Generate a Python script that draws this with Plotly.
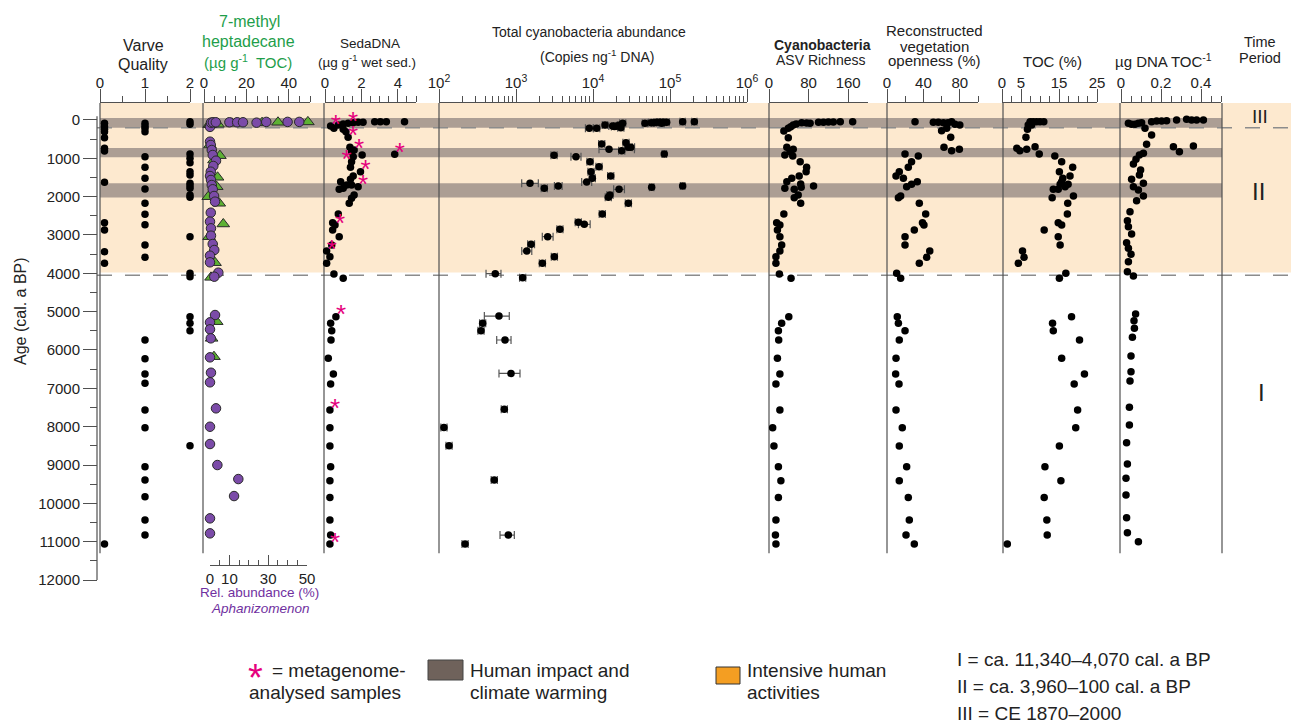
import plotly.graph_objects as go

# ---------------------------------------------------------------- data
# Varve quality index (0 / 1 / 2) versus age (cal. a BP)
varve_age = [87, 174, 243, 305, 461, 738, 809, 1626, 2679, 2870, 3435, 3740, 11062,
             87, 157, 217, 305, 957, 1234, 1521, 1800, 2173, 2460, 2731, 3261, 3582,
             5740, 6228, 6627, 6870, 7566, 8028, 9046, 9392, 9828, 10436, 10827,
             44, 112, 887, 999, 1114, 1349, 1435, 1652, 1714, 1782, 1957, 2017, 3045,
             4000, 4088, 5132, 5304, 5497, 8498]
varve_val = [0.1] * 13 + [1] * 24 + [2] * 19

# 7-methyl heptadecane (ug g-1 TOC)
mh_age = [121, 125, 112, 87, 70, 60, 50, 652, 931, 1044, 1495, 1740, 2001, 2173, 2713,
          3045, 3723, 4105, 5262, 5696, 6175]
mh_val = [2.4, 2.8, 6.6, 13.2, 27.4, 34.9, 49.0, 2.8, 7.5, 4.7, 6.4, 6.0, 2.0, 7.2, 9.1,
          2.4, 5.2, 3.3, 6.0, 3.6, 4.7]

# Aphanizomenon relative abundance (%)
aph_age = [180, 70, 60, 60, 60, 60, 60, 70, 50, 50, 50,
           566, 652, 783, 913, 1062, 1200, 1349, 1461, 1565, 1696, 1808, 1983, 2131,
           2418, 2653, 2826, 3018, 3235, 3392, 3540, 3713, 3983, 4088, 5088, 5279,
           5461, 5696, 6192, 6593, 6843, 7522, 8002, 8453, 9001, 9367, 9810, 10392, 10783]
aph_val = [0, 0.5, 1.5, 3, 10, 14, 17, 24, 29, 40, 46,
           0, 0.4, 0.9, 1.4, 3.1, 1.7, 0.4, 0, 0.5, 0.9, 1.4, 2.1, 2.6,
           0.4, 0, 0.5, 0.5, 1.4, 2.2, 0, 0, 4.3, 2.2, 2.6, 0,
           0, 0.4, 0, 0.5, 0, 3.1, 0, 0, 3.8, 14.6, 12.4, 0, 0]

# SedaDNA (ug g-1 wet sediment)
seda_age = [157, 217, 130, 104, 87, 70, 60, 60, 44, 44, 44, 44, 243, 305, 451,
            713, 783, 826, 913, 957, 895, 1087, 1234, 1348, 1461, 1548, 1609, 1696,
            1696, 1739, 1808, 1782, 1957, 2043, 2174, 2452, 2679, 2740, 2870, 3044,
            3261, 3418, 3566, 3740, 4018, 4130, 5132, 5305, 5497, 5740, 6218, 6627,
            6888, 7566, 8028, 8505, 9046, 9410, 9845, 10436, 10827, 11062]
seda_val = [0.31, 0.49, 0.73, 1.0, 1.27, 1.55, 1.82, 2.09, 2.73, 3.04, 3.37, 4.37, 1.0, 1.15, 1.27,
            1.37, 1.6, 1.46, 2.04, 1.55, 3.83, 1.46, 1.4, 1.95, 1.55, 1.4, 0.86, 1.19,
            1.46, 1.82, 0.78, 1.0, 1.6, 1.46, 1.33, 0.73, 0.42, 0.55, 0.42, 0.78,
            0.37, 0.09, 0.27, 0.09, 0.49, 1.0, 0.6, 0.31, 0.37, 0.33, 0.18, 0.46,
            0.31, 0.27, 0.27, 0.27, 0.31, 0.27, 0.27, 0.27, 0.31, 0.27]

# samples analysed by metagenomics (SedaDNA value, age)
meta_age = [157, 87, 451, 783, 895, 1087, 1348, 1739, 2740, 3418, 5132, 7566, 11062]
meta_val = [0.31, 1.27, 1.27, 1.6, 3.83, 1.46, 1.95, 1.82, 0.55, 0.09, 0.6, 0.27, 0.27]
meta_side = ["middle right"] * 5 + ["middle left"] + ["middle right"] * 7

# Total cyanobacteria abundance (copies ng-1 DNA) with error range (in decades)
cy_age = [217, 217, 130, 157, 160, 130, 87, 87, 70, 61, 61, 61, 61, 44, 44, 70, 87, 170, 200,
          626, 592, 765, 800, 713, 713, 887, 922, 957, 1088, 1218, 1349, 1461, 1521, 1618,
          1652, 1782, 1722, 1808, 1756, 1722, 1957, 2017, 2174, 2452, 2670, 2722, 2852,
          3044, 3243, 3418, 3566, 3740, 4010, 4114, 5114, 5305, 5497, 5740, 6610, 7548,
          8019, 8498, 9392, 10827, 11062]
cy_val = [8950, 11170, 14320, 18020, 20300, 22420, 24300, 47300, 61900, 67100, 74100, 81800,
          90500, 146000, 207000, 57000, 78000, 19000, 23000,
          12970, 26800, 16140, 23600, 28800, 30900, 84300, 3120, 6010, 9140, 11970, 9420,
          16980, 9800, 8280, 1520, 2330, 3540, 21800, 57800, 146000, 16600, 15800, 28800,
          13200, 6440, 7710, 3720, 2580, 1570, 1380, 3150, 2200, 538, 1220, 601, 369, 351,
          720, 861, 705, 116, 135, 522, 795, 218]
cy_err_lo = [0.05, 0.04, 0.035, 0.05, 0.04, 0.035, 0.04, 0.035, 0.035, 0.035, 0.035, 0.035,
             0.035, 0.035, 0.035, 0.035, 0.035, 0.04, 0.04,
             0.04, 0.04, 0.13, 0.04, 0.05, 0.05, 0.03, 0.04, 0.065, 0.04, 0.04, 0.04,
             0.04, 0.04, 0.065, 0.108, 0.04, 0.05, 0.07, 0.03, 0.03, 0.04, 0.04, 0.04,
             0.04, 0.04, 0.076, 0.04, 0.07, 0.045, 0.065, 0.04, 0.04, 0.12, 0.04, 0.19,
             0.04, 0.04, 0.108, 0.156, 0.04, 0.04, 0.04, 0.04, 0.108, 0.04]
cy_err_hi = [0.05, 0.04, 0.035, 0.05, 0.04, 0.035, 0.04, 0.035, 0.035, 0.035, 0.035, 0.035,
             0.035, 0.035, 0.035, 0.035, 0.035, 0.04, 0.04,
             0.04, 0.04, 0.33, 0.04, 0.05, 0.05, 0.03, 0.04, 0.065, 0.04, 0.04, 0.04,
             0.04, 0.04, 0.065, 0.108, 0.04, 0.05, 0.07, 0.03, 0.03, 0.04, 0.04, 0.04,
             0.04, 0.04, 0.076, 0.04, 0.07, 0.045, 0.065, 0.04, 0.04, 0.074, 0.04, 0.134,
             0.04, 0.04, 0.078, 0.117, 0.04, 0.04, 0.04, 0.04, 0.078, 0.04]

# Cyanobacteria ASV richness
asv_age = [287, 217, 175, 130, 104, 70, 78, 87, 61, 61, 52, 52, 44, 44, 461,
           713, 765, 826, 913, 940, 1087, 1235, 1348, 1461, 1521, 1609, 1670, 1722, 1782,
           1808, 1756, 1957, 2027, 2174, 2452, 2679, 2740, 2870, 3044, 3261, 3418, 3566,
           3740, 4018, 4130, 5132, 5305, 5497, 5740, 6218, 6627, 6888, 7566, 8028, 8505,
           9046, 9410, 9845, 10436, 10827, 11062]
asv_val = [30, 39, 44, 49, 55, 66, 76, 83, 100, 110, 120, 130, 144, 169, 39,
           36, 49, 42.5, 32, 48, 63, 76, 75, 61, 46, 36, 64, 90, 32,
           51, 65, 59, 51, 64, 30, 15.5, 22, 17, 22, 25.6, 22, 14,
           14, 21, 44.5, 40, 25.6, 19, 19.6, 17, 22, 14, 22, 7.4, 10,
           19, 24, 19, 14, 13, 14]

# Reconstructed vegetation openness (%)
veg_age = [44, 61, 61, 70, 70, 44, 112, 130, 279, 217, 451, 713, 800, 765,
           887, 940, 1087, 1234, 1348, 1461, 1521, 1609, 1678, 1739, 1983, 2026, 2174,
           2452, 2679, 2740, 2870, 3044, 3261, 3418, 3583, 3740, 4000, 4130, 5132, 5305,
           5497, 5740, 6218, 6627, 6888, 7566, 8028, 8505, 9046, 9410, 9845, 10436,
           10827, 11062]
veg_val = [30.8, 50.9, 56.4, 62, 67, 71, 74.7, 80, 60, 65.6, 70, 62.6, 71, 79.5,
           19.8, 34.4, 27, 23.4, 13.5, 9.9, 18, 33.3, 27, 21.6, 15, 12.5, 35.5,
           42.5, 39, 40.6, 30, 19.8, 19.8, 47, 43.6, 35.5, 10.6, 15, 11.3, 12.5,
           19.8, 13.5, 9.9, 9.5, 13.2, 9.9, 16.8, 13.5, 21.6, 13.5, 23.4, 24.5,
           20.9, 30]

# Total organic carbon (%)
toc_age = [44, 44, 44, 44, 44, 130, 130, 243, 451, 740, 800, 765, 696, 887, 940, 1088,
           1234, 1348, 1461, 1521, 1609, 1678, 1678, 1739, 1808, 1808, 1983, 2026, 2174,
           2452, 2679, 2740, 2870, 3044, 3261, 3418, 3583, 3740, 4000, 4130, 5132, 5305,
           5497, 5740, 6218, 6627, 6888, 7566, 8028, 8505, 9046, 9410, 9845, 10436,
           10827, 11062]
toc_val = [7.4, 8.2, 9.1, 10, 11, 6.9, 7.8, 6.7, 6.3, 3.9, 4.7, 6.5, 8.7, 9.8, 13.9, 15.7,
           18.6, 15.1, 17.9, 16, 15.7, 15.3, 17.4, 16.6, 13.5, 14.8, 18.8, 13.2, 17.3,
           17.2, 14.8, 15.7, 11.1, 14.8, 15.3, 5.4, 5.8, 4.3, 16.8, 15.1, 18.3, 13.3,
           13.5, 20.4, 15.7, 21.7, 19, 19.9, 19.4, 15.1, 11.3, 15.5, 11.1, 11.8,
           11.9, 1.4]

# DNA per TOC (ug DNA TOC-1)
dt_age = [87, 112, 112, 87, 70, 217, 44, 26, 26, 18, 0, -17, 0, 0, 0, 391,
          635, 870, 913, 1026, 1148, 696, 826, 678, 1304, 1435, 1548, 1652, 1739,
          1826, 1983, 2105, 2392, 2627, 2783, 2974, 3200, 3348, 3504, 3696, 3957,
          4070, 5061, 5235, 5435, 5670, 6157, 6566, 6810, 7496, 7958, 8420, 8975,
          9348, 9784, 10376, 10767, 11002]
dt_val = [0.037, 0.053, 0.07, 0.087, 0.103, 0.12, 0.153, 0.178, 0.203, 0.228, 0.278,
          0.328, 0.353, 0.378, 0.412, 0.153,
          0.128, 0.112, 0.092, 0.075, 0.062, 0.262, 0.292, 0.362, 0.098, 0.092, 0.053,
          0.112, 0.062, 0.087, 0.112, 0.078, 0.045, 0.032, 0.037, 0.053, 0.028, 0.037,
          0.05, 0.037, 0.032, 0.062, 0.073, 0.065, 0.067, 0.057, 0.05, 0.05, 0.045,
          0.042, 0.042, 0.028, 0.032, 0.025, 0.025, 0.028, 0.032, 0.087]

# Zones (cal. a BP)
intensive_zone = (-443, 3980)
impact_bands = [(-50, 200), (730, 970), (1650, 2020)]
period_bounds = [200, 4050]
record_base = 11300

# ---------------------------------------------------------------- layout helpers
W, H = 1291, 723
FONT = "Liberation Sans, Arial, sans-serif"
AX = "#505050"
GREEN = "#1E9E4A"
PURPLE = "#7030A0"
MAGENTA = "#E5007D"
AGE_TOP, AGE_BOT = -443, 12000


def px(x):
    return x / W


def py(y):
    return 1 - y / H


def top_axis(x0, x1, rng, **kw):
    ax = dict(domain=[px(x0), px(x1)], range=rng, side="top", anchor="y",
              showline=True, linecolor=AX, linewidth=1.2, mirror=False,
              ticks="outside", ticklen=13, tickwidth=1.2, tickcolor=AX,
              ticklabelstandoff=-5,
              showgrid=False, zeroline=False, fixedrange=True,
              tickfont=dict(size=15, color="#222", family=FONT))
    ax.update(kw)
    return ax


def minor(step, length=6, where="outside"):
    return dict(dtick=step, ticklen=length, ticks=where, tickcolor=AX,
                tickwidth=1, showgrid=False)


dot = dict(color="black", size=7.5)

fig = go.Figure()

fig.add_trace(go.Scatter(x=varve_val, y=varve_age, mode="markers", marker=dot,
                         xaxis="x", yaxis="y", cliponaxis=False))
fig.add_trace(go.Scatter(x=mh_val, y=mh_age, mode="markers", xaxis="x2", yaxis="y",
                         cliponaxis=False,
                         marker=dict(symbol="triangle-up", size=11, color="#5DB133",
                                     line=dict(color="#2a2a2a", width=1))))
fig.add_trace(go.Scatter(x=seda_val, y=seda_age, mode="markers", marker=dot,
                         xaxis="x3", yaxis="y", cliponaxis=False))
fig.add_trace(go.Scatter(x=meta_val, y=meta_age, mode="text", text=["*"] * len(meta_val),
                         textposition=meta_side, xaxis="x3", yaxis="y", cliponaxis=False,
                         textfont=dict(size=26, color=MAGENTA, family=FONT)))

cy_plus = [v * (10 ** e - 1) for v, e in zip(cy_val, cy_err_hi)]
cy_minus = [v * (1 - 10 ** -e) for v, e in zip(cy_val, cy_err_lo)]
fig.add_trace(go.Scatter(x=cy_val, y=cy_age, mode="markers", marker=dot,
                         xaxis="x4", yaxis="y", cliponaxis=False,
                         error_x=dict(type="data", symmetric=False, array=cy_plus,
                                      arrayminus=cy_minus, color="#555", thickness=1.2,
                                      width=4)))
fig.add_trace(go.Scatter(x=asv_val, y=asv_age, mode="markers", marker=dot,
                         xaxis="x5", yaxis="y", cliponaxis=False))
fig.add_trace(go.Scatter(x=veg_val, y=veg_age, mode="markers", marker=dot,
                         xaxis="x6", yaxis="y", cliponaxis=False))
fig.add_trace(go.Scatter(x=toc_val, y=toc_age, mode="markers", marker=dot,
                         xaxis="x7", yaxis="y", cliponaxis=False))
fig.add_trace(go.Scatter(x=dt_val, y=dt_age, mode="markers", marker=dot,
                         xaxis="x8", yaxis="y", cliponaxis=False))
fig.add_trace(go.Scatter(x=aph_val, y=aph_age, mode="markers", xaxis="x9", yaxis="y",
                         cliponaxis=False,
                         marker=dict(symbol="circle", size=9.5, color="#7B4BA8",
                                     line=dict(color="#2a2a2a", width=1))))

sup = lambda n: f"10<sup>{n}</sup>"
cy_minor = [k * 10 ** n for n in range(2, 6) for k in range(2, 10)]

fig.update_layout(
    width=W, height=H, margin=dict(l=0, r=0, t=0, b=0, autoexpand=False), autosize=False,
    paper_bgcolor="white", plot_bgcolor="rgba(0,0,0,0)", showlegend=False,
    font=dict(family=FONT, color="#222"),
    yaxis=dict(domain=[py(580), py(103)], range=[AGE_BOT, AGE_TOP], anchor="free",
               position=px(97), side="left", showline=False,
               ticks="outside", ticklen=14, tickwidth=1.2, tickcolor=AX, dtick=1000,
               tick0=0, tickformat="d", showgrid=False, zeroline=False, fixedrange=True,
               minor=minor(500, 7), tickfont=dict(size=15, color="#222", family=FONT)),
    xaxis=top_axis(100, 190, [0, 2], dtick=1, minor=minor(0.5)),
    xaxis2=top_axis(204, 310, [0, 50], dtick=20, minor=minor(5)),
    xaxis3=top_axis(325, 416, [0, 5], dtick=2, minor=minor(0.5)),
    xaxis4=top_axis(439, 747, [2, 6], type="log",
                    tickvals=[1e2, 1e3, 1e4, 1e5, 1e6],
                    ticktext=[sup(n) for n in range(2, 7)],
                    minor=dict(tickvals=cy_minor, ticklen=6, ticks="outside",
                               tickcolor=AX, tickwidth=1, showgrid=False)),
    xaxis5=top_axis(769, 868, [0, 200], tickvals=[0, 80, 160]),
    xaxis6=top_axis(887, 978, [0, 100], dtick=40, minor=minor(20)),
    xaxis7=top_axis(1002, 1097, [0, 25], tickvals=[0, 5, 15, 25], minor=minor(2.5)),
    xaxis8=top_axis(1121, 1221, [0, 0.5], tickvals=[0, 0.2, 0.4], minor=minor(0.05)),
    xaxis9=dict(domain=[px(210), px(307)], range=[0, 50], side="bottom", anchor="free",
                position=py(565), showline=True, linecolor=AX, linewidth=1.2,
                ticks="inside", ticklen=10, tickwidth=1.2, tickcolor=AX,
                tickvals=[0, 10, 30, 50], minor=minor(5, 5, "inside"), showgrid=False,
                zeroline=False, fixedrange=True,
                tickfont=dict(size=15, color="#222", family=FONT)),
)

# ---------------------------------------------------------------- background zones
shapes = []
shapes.append(dict(type="rect", xref="paper", yref="y", x0=px(100), x1=1,
                   y0=intensive_zone[0], y1=intensive_zone[1], fillcolor="#FDE9CF",
                   line=dict(width=0), layer="below"))
for a0, a1 in impact_bands:
    shapes.append(dict(type="rect", xref="paper", yref="y", x0=px(100), x1=px(1222),
                       y0=a0, y1=a1, fillcolor="#AC9E94", line=dict(width=0),
                       layer="below"))
for b in period_bounds:
    shapes.append(dict(type="line", xref="paper", yref="y", x0=px(97), x1=1, y0=b, y1=b,
                       line=dict(color="#8C8C8C", width=1.5, dash="15px,13px"),
                       layer="below"))
for xl in [100, 203, 324, 439, 769, 887, 1003, 1120, 1222]:
    shapes.append(dict(type="line", xref="paper", yref="y", x0=px(xl), x1=px(xl),
                       y0=AGE_TOP, y1=record_base, line=dict(color=AX, width=1.2),
                       layer="below"))
# age axis spine
shapes.append(dict(type="line", xref="paper", yref="y", x0=px(97), x1=px(97),
                   y0=-100, y1=AGE_BOT, line=dict(color=AX, width=1.2)))

# legend swatches
shapes.append(dict(type="rect", xref="paper", yref="paper", x0=px(428), x1=px(463),
                   y0=py(680), y1=py(660), fillcolor="#6F625B",
                   line=dict(color="#444", width=1)))
shapes.append(dict(type="rect", xref="paper", yref="paper", x0=px(716), x1=px(740),
                   y0=py(684), y1=py(667), fillcolor="#F49E22",
                   line=dict(color="#333", width=1)))
fig.update_layout(shapes=shapes)

# ---------------------------------------------------------------- text
ann = []


def label(text, x, y, size, color="#222", anchor="center", angle=0):
    ann.append(dict(text=text, x=px(x), y=py(y), xref="paper", yref="paper",
                    xanchor=anchor, yanchor="middle", showarrow=False, textangle=angle,
                    font=dict(size=size, color=color, family=FONT)))


label("Varve", 143, 45, 16)
label("Quality", 143, 64, 16)
label("7-methyl", 249, 21, 16, GREEN)
label("heptadecane", 248, 41, 16, GREEN)
label("(µg g<sup>-1</sup>  TOC)", 248, 61, 15, GREEN)
label("SedaDNA", 370, 43, 13.5)
label("(µg g<sup>-1</sup> wet sed.)", 367, 61, 13.5)
label("Total cyanobacteria abundance", 589, 32, 14)
label("(Copies ng<sup>-1</sup> DNA)", 597, 56, 14)
label("<b>Cyanobacteria</b>", 822, 45, 14)
label("ASV Richness", 820, 60, 14)
label("Reconstructed", 934, 31, 15)
label("vegetation", 934, 46, 15)
label("openness (%)", 934, 60, 15)
label("TOC (%)", 1052, 61, 15)
label("µg DNA TOC<sup>-1</sup>", 1163, 60, 15)
label("Time", 1260, 42, 14.5)
label("Period", 1260, 58, 14.5)

label("III", 1260, 117, 19)
label("II", 1258, 192, 24)
label("I", 1261, 393, 24)

label("Age (cal. a BP)", 20, 311, 16, angle=-90)
label("Rel. abundance (%)", 259, 592, 13.5, PURPLE)
label("<i>Aphanizomenon</i>", 260, 608, 13.5, PURPLE)

label("*", 255, 678, 38, MAGENTA)
label("= metagenome-", 270, 670, 19, anchor="left")
label("analysed samples", 247, 692, 19, anchor="left")
label("Human impact and", 468, 670, 19, anchor="left")
label("climate warming", 468, 692, 19, anchor="left")
label("Intensive human", 745, 670, 19, anchor="left")
label("activities", 745, 692, 19, anchor="left")
label("I = ca. 11,340–4,070 cal. a BP", 955, 659, 19, anchor="left")
label("II = ca. 3,960–100 cal. a BP", 955, 686, 19, anchor="left")
label("III = CE 1870–2000", 955, 713, 19, anchor="left")

fig.update_layout(annotations=ann)

# page without default body margin so the figure sits at the window origin
fig.write_html("out.html", config={"responsive": False},
               post_script="document.body.style.margin='0';"
                           "document.body.style.overflow='hidden';")
